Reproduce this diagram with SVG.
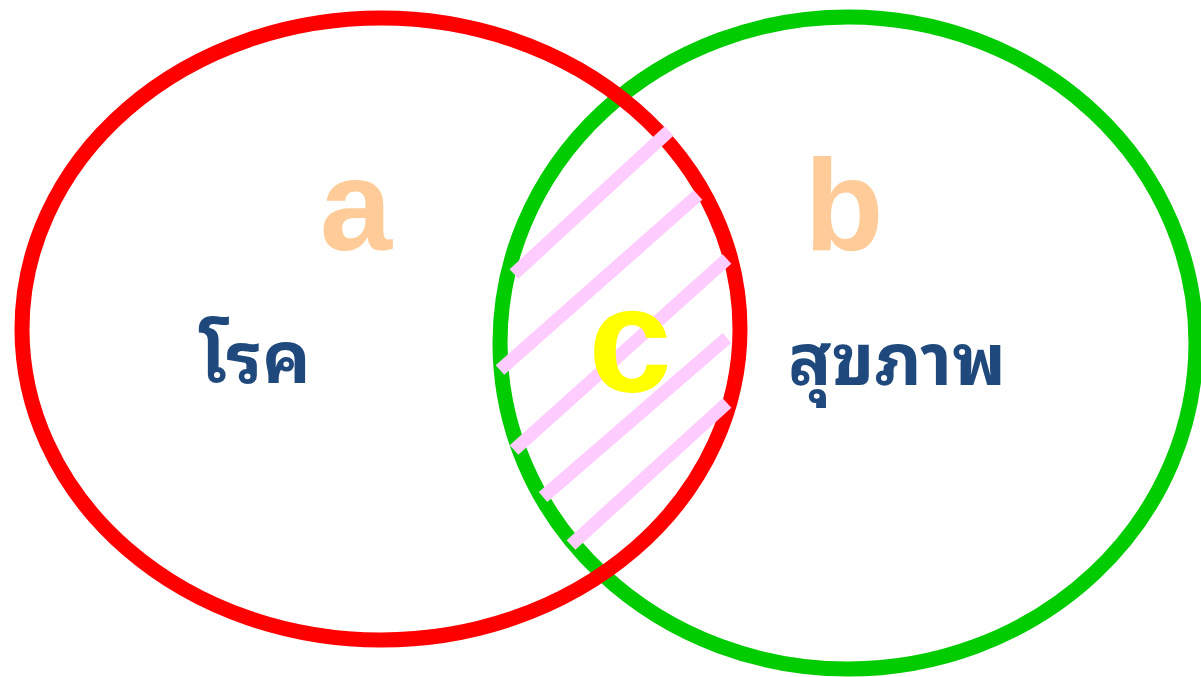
<svg xmlns="http://www.w3.org/2000/svg" width="1201" height="677" viewBox="0 0 1201 677">
<style>
.ring{fill:none;stroke-width:15}
.hatch{stroke:#FFCCFF;stroke-width:13;stroke-linecap:butt}
.big{font-family:"Liberation Sans",Arial,sans-serif;font-weight:bold;text-anchor:middle}
.thai{font-family:Tahoma,"Noto Sans Thai Looped","Noto Serif Thai","Noto Sans Thai","Noto Sans","DejaVu Sans",sans-serif;font-weight:bold;fill:#1F497D;text-anchor:middle;font-size:72px}
</style>
<rect width="1201" height="677" fill="#FFFFFF"/>
<g id="set-b">
<ellipse class="ring" cx="848" cy="343" rx="348" ry="326" stroke="#00CC00"/>
</g>
<g id="set-a">
<ellipse class="ring" cx="381" cy="329" rx="359" ry="311" stroke="#FF0000"/>
</g>
<g id="hatching">
<line class="hatch" x1="514" y1="274" x2="669" y2="131"/>
<line class="hatch" x1="500" y1="370" x2="698" y2="195"/>
<line class="hatch" x1="514" y1="450" x2="727" y2="259"/>
<line class="hatch" x1="543" y1="497" x2="727" y2="338"/>
<line class="hatch" x1="571" y1="545" x2="727" y2="403"/>
</g>
<g id="labels">
<text class="big" x="356" y="250" font-size="130" fill="#FFCC99">a</text>
<text class="big" x="844" y="250" font-size="130" fill="#FFCC99">b</text>
<text class="big" x="630" y="392" font-size="150" fill="#FFFF00">c</text>
<text class="thai" x="255" y="383">โรค</text>
<text class="thai" x="897" y="385">สุขภาพ</text>
</g>
</svg>
